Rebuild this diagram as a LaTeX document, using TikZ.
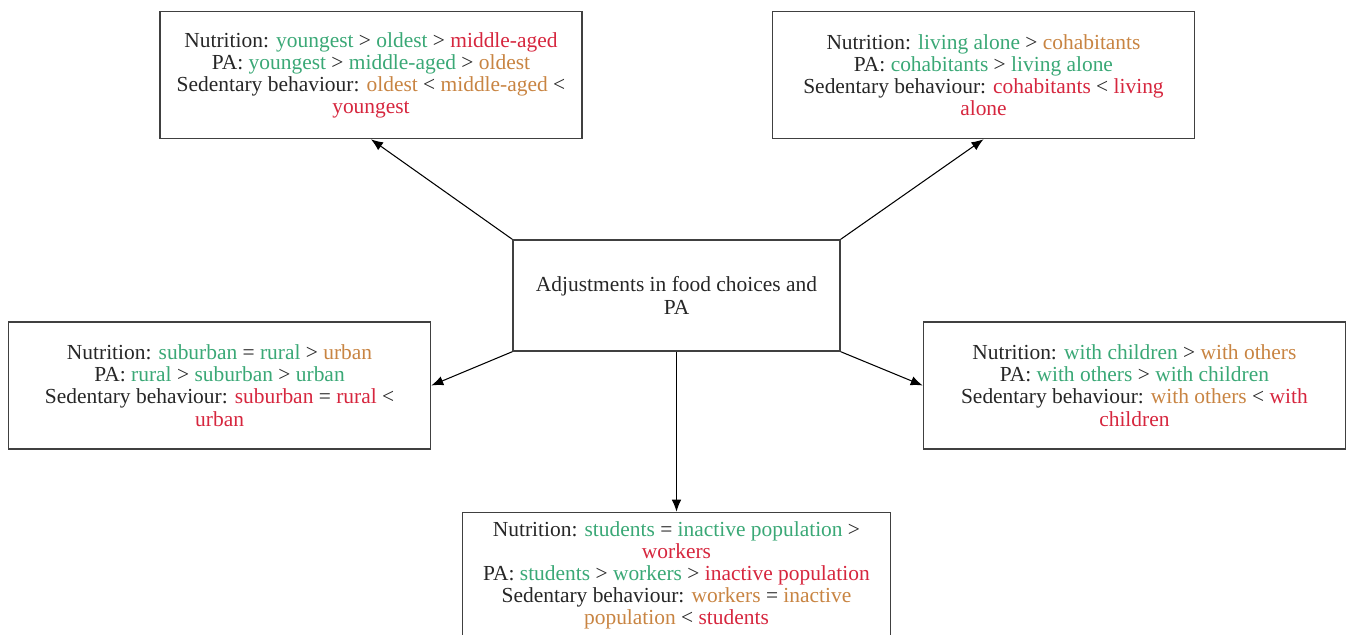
\documentclass[tikz,border=0pt]{standalone}
\usepackage{fontspec}
\setmainfont{Liberation Serif}
\usepackage{xcolor}
\usepackage{tikz}
\usetikzlibrary{arrows.meta}
\usetikzlibrary{positioning}

\definecolor{goodgreen}{RGB}{58,168,118}
\definecolor{midorange}{RGB}{200,132,66}
\definecolor{badred}{RGB}{214,38,62}
\newcommand{\cgreen}[1]{\textcolor{goodgreen}{#1}}
\newcommand{\corange}[1]{\textcolor{midorange}{#1}}
\newcommand{\cred}[1]{\textcolor{badred}{#1}}

\begin{document}
\begin{tikzpicture}
      \tikzset{
         groupbox/.style = {
            rectangle, draw=black!75, line width=0.8pt,
            align=center, font=\fontsize{12.2}{12.6}\selectfont,
            text=black!85,
            minimum width=8.44cm, minimum height=2.54cm
         },
         hubbox/.style = {
            rectangle, draw=black!75, line width=0.8pt,
            align=center, font=\fontsize{12.2}{12.6}\selectfont,
            text=black!85,
            minimum width=6.54cm, minimum height=2.22cm
         }
      }
      \useasboundingbox (0,0) rectangle (26.92,-12.7) ;
      \node[hubbox] (hub) at (13.53,-5.91) {
        Adjustments in food choices and\\ PA
      } ;
      \node[groupbox, above=2cm of hub, xshift=-6.11cm] (age) {
        Nutrition: \cgreen{youngest} > \cgreen{oldest} > \cred{middle-aged}\\
        PA: \cgreen{youngest} > \cgreen{middle-aged} > \corange{oldest}\\
        Sedentary behaviour: \corange{oldest} < \corange{middle-aged} <\\
        \cred{youngest}
      } ;
      \node[groupbox, above=2cm of hub, xshift=6.14cm] (living) {
        Nutrition: \cgreen{living alone} > \corange{cohabitants}\\
        PA: \cgreen{cohabitants} > \cgreen{living alone}\\
        Sedentary behaviour: \cred{cohabitants} < \cred{living}\\
        \cred{alone}
      } ;
      \node[groupbox, left=1.62cm of hub, yshift=-1.8cm] (area) {
        Nutrition: \cgreen{suburban} = \cgreen{rural} > \corange{urban}\\
        PA: \cgreen{rural} > \cgreen{suburban} > \cgreen{urban}\\
        Sedentary behaviour: \cred{suburban} = \cred{rural} <\\
        \cred{urban}
      } ;
      \node[groupbox, right=1.64cm of hub, yshift=-1.8cm] (family) {
        Nutrition: \cgreen{with children} > \corange{with others}\\
        PA: \cgreen{with others} > \cgreen{with children}\\
        Sedentary behaviour: \corange{with others} < \cred{with}\\
        \cred{children}
      } ;
      \node[groupbox, minimum width=8.56cm, minimum height=2.52cm, below=3.2cm of hub] (work) {
        Nutrition: \cgreen{students} = \cgreen{inactive population} >\\
        \cred{workers}\\
        PA: \cgreen{students} > \cgreen{workers} > \cred{inactive population}\\
        Sedentary behaviour: \corange{workers} = \corange{inactive}\\
        \corange{population} < \cred{students}
      } ;
      \draw [-{Latex[length=2.4mm,width=1.9mm]}, line width=0.6pt] (hub.north west) -- (age.south) ;
      \draw [-{Latex[length=2.4mm,width=1.9mm]}, line width=0.6pt] (hub.north east) -- (living.south) ;
      \draw [-{Latex[length=2.4mm,width=1.9mm]}, line width=0.6pt] (hub.south west) -- (area.east) ;
      \draw [-{Latex[length=2.4mm,width=1.9mm]}, line width=0.6pt] (hub.south east) -- (family.west) ;
      \draw [-{Latex[length=2.4mm,width=1.9mm]}, line width=0.6pt] (hub) -- (work) ;
    \end{tikzpicture}
\end{document}
